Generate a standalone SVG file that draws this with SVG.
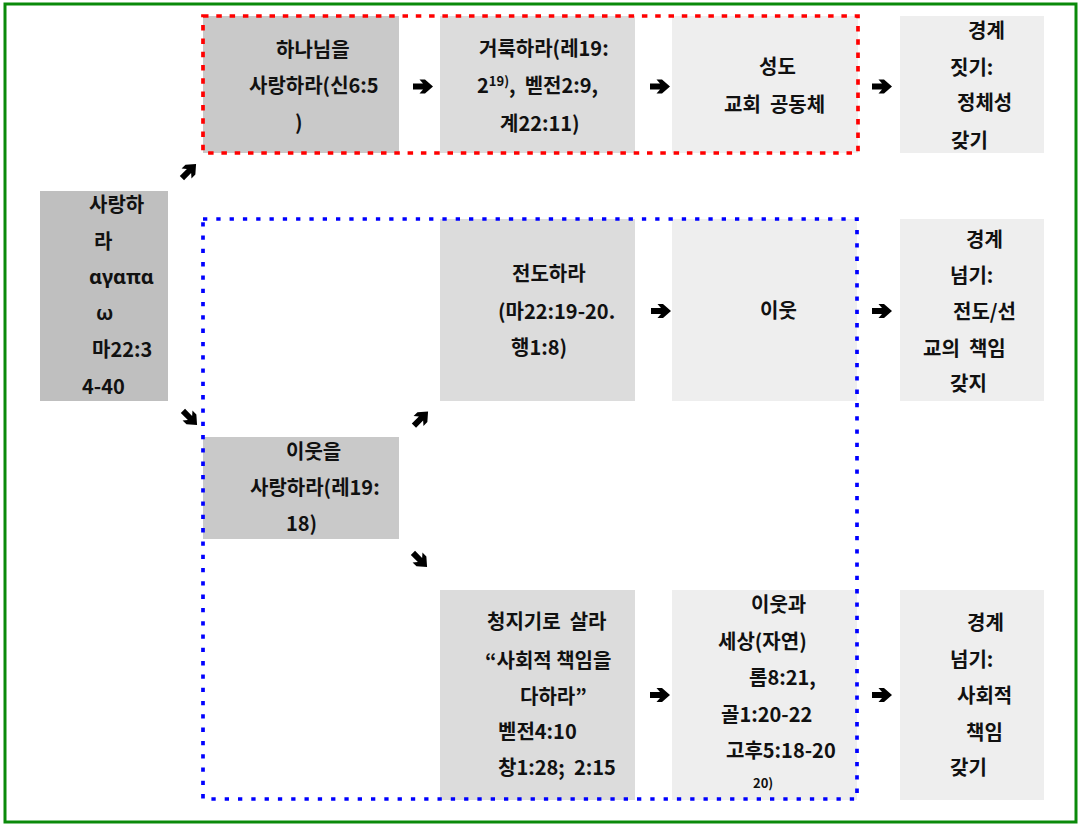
<svg xmlns="http://www.w3.org/2000/svg" width="1080" height="825" viewBox="0 0 1080 825">
<defs>
<style>
.t{font-family:"Noto Sans CJK KR","Noto Sans",sans-serif;font-size:20px;font-weight:bold;fill:#111;white-space:pre;}
.g{font-family:"Noto Sans","DejaVu Sans",sans-serif;font-size:20px;font-weight:bold;fill:#111;}
.d1{fill:#bfbfbf;}
.d2{fill:#c9c9c9;}
.d3{fill:#dcdcdc;}
.d4{fill:#eeeeee;}
.arr{fill:#000;}
</style>
<path id="arw" d="M -10,-3 L 0,-3 L -3.5,-7 L 2,-7 L 10,0 L 2,7 L -3.5,7 L 0,3 L -10,3 Z"/>
</defs>
<rect x="0" y="0" width="1080" height="825" fill="#fff"/>
<rect x="5" y="4" width="1071" height="818" fill="none" stroke="#0a8a0a" stroke-width="3"/>

<g id="n_love"><rect class="d1" x="40" y="191" width="128" height="210"/>
<text class="t" x="89" y="211.5">사랑하</text>
<text class="t" x="94" y="248.5">라</text>
<text class="g" x="89" y="284">αγαπα</text>
<text class="g" x="96" y="320">ω</text>
<text class="t" x="92" y="356.5">마22:3</text>
<text class="t" x="82" y="394">4-40</text></g>

<g id="n_god"><rect class="d2" x="203" y="16" width="196" height="137"/>
<text class="t" x="276" y="56.5">하나님을</text>
<text class="t" x="249" y="92.5">사랑하라(신6:5</text>
<text class="t" x="295" y="130">)</text></g>

<g id="n_holy"><rect class="d3" x="440" y="16" width="195" height="137"/>
<text class="t" x="479" y="55.5">거룩하라(레19:</text>
<text class="t" x="477" y="92.5">2<tspan style="font-size:13px" dy="-7">19)</tspan><tspan dy="7">,  벧전2:9,</tspan></text>
<text class="t" x="500" y="130.5">계22:11)</text></g>

<g id="n_saints"><rect class="d4" x="672" y="16" width="186" height="137"/>
<text class="t" x="759" y="73.5">성도</text>
<text class="t" x="724" y="111.5">교회  공동체</text></g>

<g id="n_b1"><rect class="d4" x="900" y="16" width="144" height="137"/>
<text class="t" x="968" y="37.5">경계</text>
<text class="t" x="950" y="74.5">짓기:</text>
<text class="t" x="957" y="109.5">정체성</text>
<text class="t" x="951" y="148">갖기</text></g>

<g id="n_evang"><rect class="d3" x="440" y="219" width="195" height="182"/>
<text class="t" x="512" y="280.5">전도하라</text>
<text class="t" x="498" y="318.5">(마22:19-20.</text>
<text class="t" x="511" y="354.5">행1:8)</text></g>

<g id="n_neighbor"><rect class="d4" x="672" y="219" width="185" height="182"/>
<text class="t" x="760" y="317.5">이웃</text></g>

<g id="n_b2"><rect class="d4" x="900" y="219" width="144" height="182"/>
<text class="t" x="966" y="246.5">경계</text>
<text class="t" x="950" y="282.5">넘기:</text>
<text class="t" x="953" y="318.5">전도/선</text>
<text class="t" x="923" y="355.5">교의  책임</text>
<text class="t" x="950" y="390.5">갖지</text></g>

<g id="n_lovenb"><rect class="d2" x="203" y="437" width="196" height="102"/>
<text class="t" x="286" y="458.5">이웃을</text>
<text class="t" x="250" y="494.5">사랑하라(레19:</text>
<text class="t" x="286" y="530.5">18)</text></g>

<g id="n_steward"><rect class="d3" x="440" y="590" width="195" height="210"/>
<text class="t" x="487" y="629">청지기로  살라</text>
<text class="t" x="485" y="667.5">“사회적 책임을</text>
<text class="t" x="520" y="703.5">다하라”</text>
<text class="t" x="498" y="738.5">벧전4:10</text>
<text class="t" x="498" y="774.5">창1:28;  2:15</text></g>

<g id="n_world"><rect class="d4" x="672" y="590" width="185" height="210"/>
<text class="t" x="751" y="611.5">이웃과</text>
<text class="t" x="718" y="648.5">세상(자연)</text>
<text class="t" x="749" y="684.5">롬8:21,</text>
<text class="t" x="721" y="721.5">골1:20-22</text>
<text class="t" x="726" y="757.5">고후5:18-20</text>
<text class="t" x="753" y="788" style="font-size:13px">20)</text></g>

<g id="n_b3"><rect class="d4" x="900" y="590" width="144" height="210"/>
<text class="t" x="967" y="629.5">경계</text>
<text class="t" x="950" y="666.5">넘기:</text>
<text class="t" x="957" y="702.5">사회적</text>
<text class="t" x="966" y="739.5">책임</text>
<text class="t" x="950" y="774.5">갖기</text></g>

<g id="groups" fill="none">
<rect x="203" y="16" width="655" height="137" stroke="#ff0000" stroke-width="3.7" stroke-dasharray="5.5 7.8"/>
<rect x="203" y="219" width="654" height="580" stroke="#0000ff" stroke-width="3.7" stroke-dasharray="4.3 9"/>
</g>

<g id="connectors" class="arr">
<use href="#arw" transform="translate(423,86.5)"/>
<use href="#arw" transform="translate(660,86.5)"/>
<use href="#arw" transform="translate(882,86.5)"/>
<use href="#arw" transform="translate(189,171) rotate(-45)"/>
<use href="#arw" transform="translate(190,418) rotate(45)"/>
<use href="#arw" transform="translate(421,418.5) rotate(-45)"/>
<use href="#arw" transform="translate(420,560) rotate(45)"/>
<use href="#arw" transform="translate(661,311)"/>
<use href="#arw" transform="translate(882,311)"/>
<use href="#arw" transform="translate(660,695)"/>
<use href="#arw" transform="translate(882,695)"/>
</g>
</svg>
